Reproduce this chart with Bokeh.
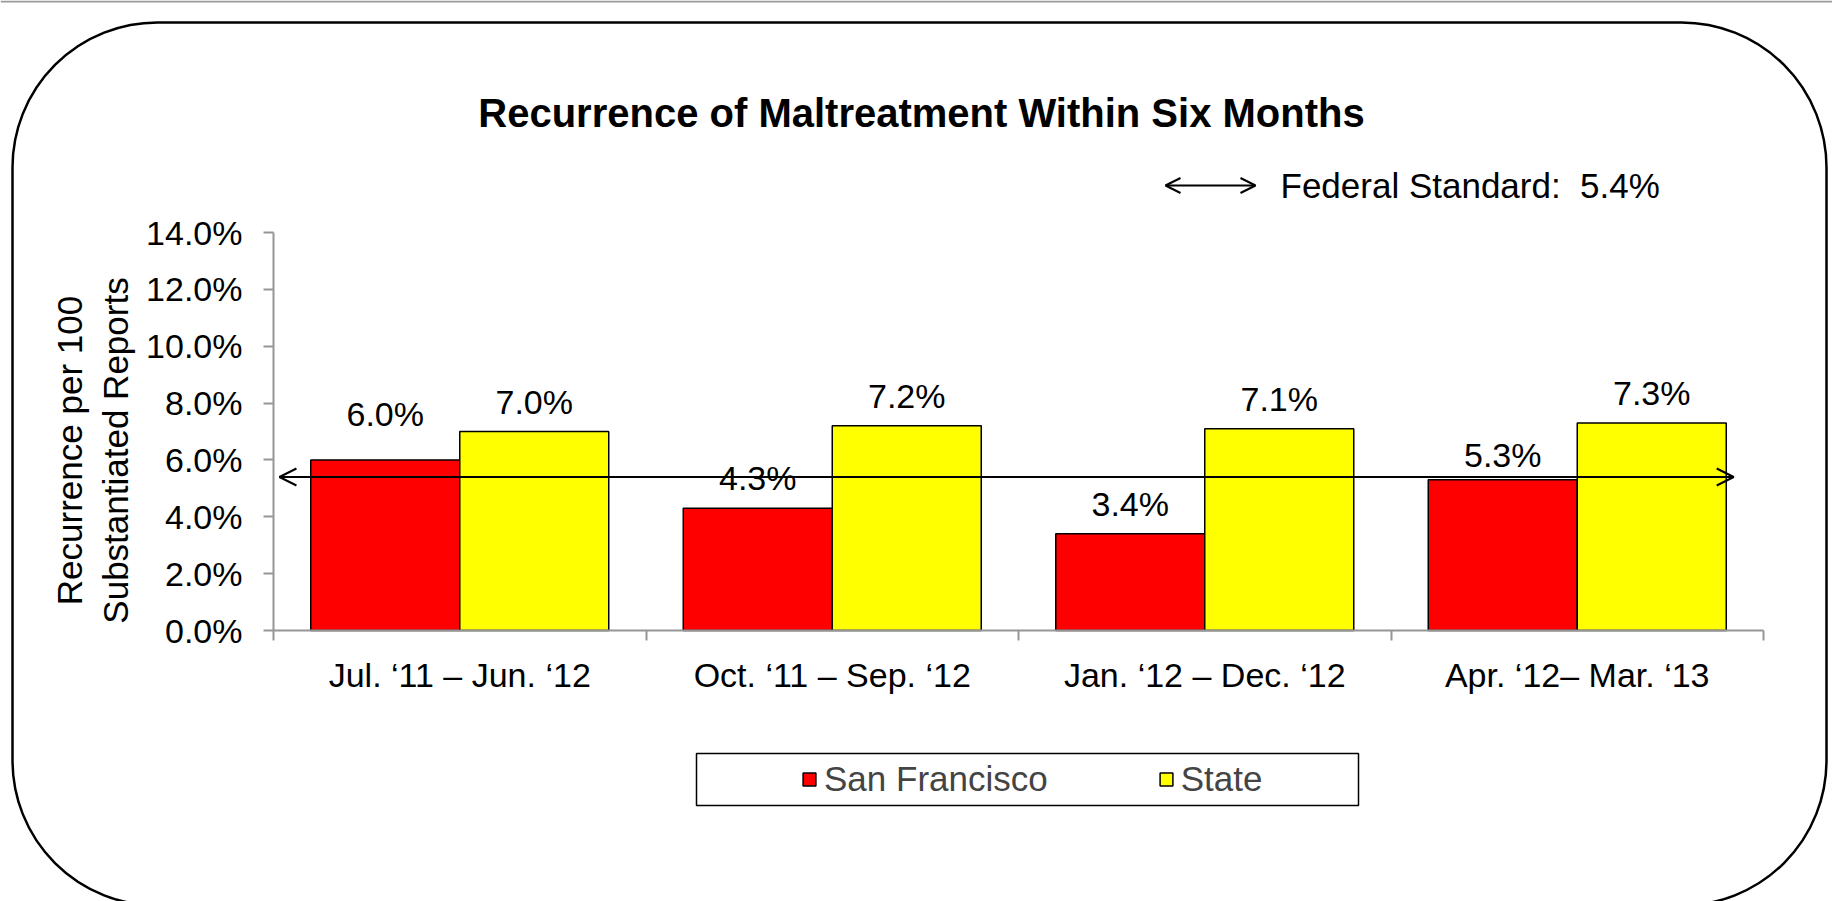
import math
from bokeh.plotting import figure
from bokeh.models import (ColumnDataSource, Range1d, FixedTicker, PrintfTickFormatter,
                          Label, Arrow, OpenHead, BoxAnnotation, Legend, LegendItem, LinearAxis)
from bokeh.transform import dodge
from bokeh.core.properties import value
from bokeh.embed import file_html
from bokeh.resources import INLINE

# ---------------- data ----------------
categories = ["Jul. \u201811 \u2013 Jun. \u201812",
              "Oct. \u201811 \u2013 Sep. \u201812",
              "Jan. \u201812 \u2013 Dec. \u201812",
              "Apr. \u201812\u2013 Mar. \u201813"]
san_francisco = [6.0, 4.3, 3.4, 5.3]
state = [7.0, 7.2, 7.1, 7.3]
federal_standard = 5.4
y_ticks = [0, 2, 4, 6, 8, 10, 12, 14]
series_names = ["San Francisco", "State"]
title_text = "Recurrence of Maltreatment Within Six Months"
y_label_text = "Recurrence per 100\nSubstantiated Reports"
federal_text = "Federal Standard:\u00a0 5.4%"

# label gaps above bars (px) - layout only
sf_label_gap = [46, 30, 30, 25]
state_label_gap = [30, 30, 30, 30]

FONT = "Liberation Sans"
AXIS_GREY = "#969696"
W, H = 1832, 901
# plot-area placement on the canvas (px)
AREA_LEFT, AREA_RIGHT, AREA_TOP, AREA_BOTTOM = 273, 1763, 232, 630
Y_MAX = 14
N = len(categories)
ppu_x = (AREA_RIGHT - AREA_LEFT) / N
ppu_y = (AREA_BOTTOM - AREA_TOP) / Y_MAX


def sx(px):
    return px


def sy(py):
    return H - py


def screen_box(left, right, top, bottom, **kw):
    return BoxAnnotation(left=sx(left), right=sx(right), top=sy(top), bottom=sy(bottom),
                         left_units="screen", right_units="screen",
                         top_units="screen", bottom_units="screen", **kw)


centers = [i + 0.5 for i in range(N)]
src = ColumnDataSource(dict(
    x=centers,
    sf=san_francisco,
    st=state,
    sf_lab=[f"{v:.1f}%" for v in san_francisco],
    st_lab=[f"{v:.1f}%" for v in state],
    sf_off=[-g for g in sf_label_gap],
    st_off=[-g for g in state_label_gap],
))

p = figure(width=W, height=H, output_backend="svg", toolbar_location=None,
           x_range=Range1d(-AREA_LEFT / ppu_x, (W - AREA_LEFT) / ppu_x),
           y_range=Range1d(-(H - AREA_BOTTOM) / ppu_y, Y_MAX + AREA_TOP / ppu_y),
           x_axis_type=None, y_axis_type=None,
           min_border_left=0, min_border_right=0, min_border_top=0, min_border_bottom=0)
p.xgrid.visible = False
p.ygrid.visible = False
p.outline_line_color = None
p.background_fill_color = "white"
p.border_fill_color = "white"

# thin grey rule at very top
p.add_layout(screen_box(0, W, 0, 2, fill_color="#9a9a9a", fill_alpha=1,
                        line_color=None, level="underlay"))

# rounded outer box
p.add_layout(screen_box(12, 1826, 22, 905, fill_color=None, line_color="black",
                        line_alpha=1, line_width=2.5, border_radius=145, level="underlay"))

# bars
r_sf = p.vbar(x=dodge("x", -0.2), top="sf", width=0.4, bottom=0, source=src,
              fill_color="#FF0000", line_color="black", line_width=1.5)
r_st = p.vbar(x=dodge("x", 0.2), top="st", width=0.4, bottom=0, source=src,
              fill_color="#FFFF00", line_color="black", line_width=1.5)

# value labels
p.text(x=dodge("x", -0.2), y="sf", text="sf_lab", y_offset="sf_off", source=src,
       text_font=value(FONT), text_font_size="34px", text_align="center",
       text_baseline="alphabetic", text_color="black")
p.text(x=dodge("x", 0.2), y="st", text="st_lab", y_offset="st_off", source=src,
       text_font=value(FONT), text_font_size="34px", text_align="center",
       text_baseline="alphabetic", text_color="black")

# axes (fixed at the plot-area origin)
yaxis = LinearAxis(ticker=FixedTicker(ticks=y_ticks), fixed_location=0, bounds=(0, Y_MAX),
                   formatter=PrintfTickFormatter(format="%.1f%%"))
yaxis.axis_line_color = AXIS_GREY
yaxis.axis_line_width = 2
yaxis.major_tick_line_color = AXIS_GREY
yaxis.major_tick_line_width = 2
yaxis.major_tick_out = 10
yaxis.major_tick_in = 0
yaxis.minor_tick_line_color = None
yaxis.major_label_text_font = FONT
yaxis.major_label_text_font_size = "34px"
yaxis.major_label_text_color = "black"
yaxis.major_label_standoff = 21
p.add_layout(yaxis, "left")

xaxis = LinearAxis(ticker=FixedTicker(ticks=centers, minor_ticks=list(range(N + 1))),
                   fixed_location=0, bounds=(0, N),
                   major_label_overrides={c: lab for c, lab in zip(centers, categories)})
xaxis.axis_line_color = AXIS_GREY
xaxis.axis_line_width = 2
xaxis.major_tick_line_color = None
xaxis.major_tick_out = 0
xaxis.major_tick_in = 0
xaxis.minor_tick_line_color = AXIS_GREY
xaxis.minor_tick_line_width = 2
xaxis.minor_tick_out = 10
xaxis.minor_tick_in = 0
xaxis.major_label_text_font = FONT
xaxis.major_label_text_font_size = "34px"
xaxis.major_label_text_color = "black"
xaxis.major_label_standoff = 15
p.add_layout(xaxis, "below")

# federal standard line (double arrow)
p.add_layout(Arrow(start=OpenHead(size=17, line_width=2), end=OpenHead(size=17, line_width=2),
                   x_start=0.016, y_start=federal_standard, x_end=3.92, y_end=federal_standard,
                   line_width=2, line_color="black"))

# federal standard key
p.add_layout(Arrow(start=OpenHead(size=15, line_width=2), end=OpenHead(size=15, line_width=2),
                   x_start=sx(1165), y_start=sy(185), x_end=sx(1255), y_end=sy(185),
                   start_units="screen", end_units="screen", line_width=2, line_color="black"))
p.add_layout(Label(x=sx(1280), y=sy(185), x_units="screen", y_units="screen",
                   text=federal_text, text_font=FONT, text_font_size="35px",
                   text_align="left", text_baseline="middle", text_color="black"))

# title
p.add_layout(Label(x=sx(921), y=sy(112), x_units="screen", y_units="screen",
                   text=title_text, text_font=FONT, text_font_style="bold",
                   text_font_size="40px", text_align="center", text_baseline="middle",
                   text_color="black"))

# y axis label
p.add_layout(Label(x=sx(92), y=sy(450), x_units="screen", y_units="screen",
                   text=y_label_text, angle=math.pi / 2, text_font=FONT,
                   text_font_size="35px", text_align="center", text_baseline="middle",
                   text_color="black"))

# legend box + legend
p.add_layout(screen_box(696, 1358, 753, 805, fill_color=None, line_color="black",
                        line_alpha=1, line_width=1.5))
legend = Legend(items=[LegendItem(label=series_names[0], renderers=[r_sf]),
                       LegendItem(label=series_names[1], renderers=[r_st])],
                orientation="horizontal", location=(sx(801), sy(799)),
                padding=0, margin=0, spacing=110, label_standoff=7,
                glyph_width=16, glyph_height=16,
                label_text_font=FONT, label_text_font_size="35px",
                border_line_color=None, background_fill_alpha=0)
p.add_layout(legend)

open("out.html", "w").write(file_html(p, INLINE))
